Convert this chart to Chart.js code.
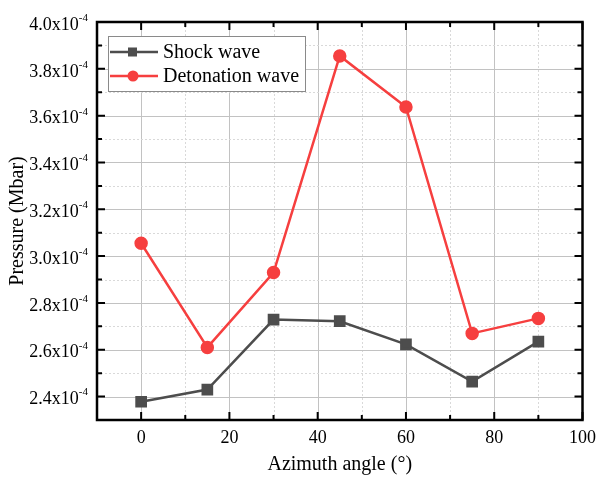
<!DOCTYPE html>
<html>
<head>
<meta charset="utf-8">
<script src="https://cdn.jsdelivr.net/npm/chart.js@4.4.0/dist/chart.umd.min.js"></script>
<style>
  html, body { margin: 0; padding: 0; background: #fff; }
  #wrap { width: 603px; height: 477px; }
</style>
</head>
<body>
<div id="wrap"><canvas id="pressureChart"></canvas></div>
<script>
const angles = [0, 15, 30, 45, 60, 75, 90];
const shockWave = [2.378e-4, 2.430e-4, 2.729e-4, 2.722e-4, 2.623e-4, 2.464e-4, 2.635e-4];
const detonationWave = [3.055e-4, 2.610e-4, 2.930e-4, 3.855e-4, 3.637e-4, 2.670e-4, 2.734e-4];
const seriesNames = ['Shock wave', 'Detonation wave'];
const xTicks = [0, 20, 40, 60, 80, 100];
const yTicks = [2.4e-4, 2.6e-4, 2.8e-4, 3.0e-4, 3.2e-4, 3.4e-4, 3.6e-4, 3.8e-4, 4.0e-4];
const yTickLabels = ['2.4', '2.6', '2.8', '3.0', '3.2', '3.4', '3.6', '3.8', '4.0'];

const FONT = "'Liberation Serif', 'Times New Roman', serif";
const GRAY = '#4d4d4d';
const RED = '#f63f3f';

// minor positions halfway between majors (plus one before the first)
function withMinors(major) {
  const step = major[1] - major[0];
  const out = [];
  major.forEach(v => {
    out.push({ value: v - step / 2, minor: true });
    out.push({ value: v, minor: false });
  });
  return out;
}

const framePlugin = {
  id: 'frame',
  beforeDatasetsDraw(chart) {
    const { ctx, chartArea: a, scales: { x, y } } = chart;
    ctx.save();
    ctx.beginPath();
    ctx.rect(a.left, a.top, a.right - a.left, a.bottom - a.top);
    ctx.clip();
    ctx.lineWidth = 1;
    withMinors(xTicks).forEach(t => {
      const px = Math.round(x.getPixelForValue(t.value)) + 0.5;
      ctx.beginPath();
      ctx.strokeStyle = t.minor ? '#d9d9d9' : '#c2c2c2';
      ctx.setLineDash(t.minor ? [2, 2] : []);
      ctx.moveTo(px, a.top); ctx.lineTo(px, a.bottom);
      ctx.stroke();
    });
    withMinors(yTicks).forEach(t => {
      const py = Math.round(y.getPixelForValue(t.value)) + 0.5;
      ctx.beginPath();
      ctx.strokeStyle = t.minor ? '#d9d9d9' : '#c2c2c2';
      ctx.setLineDash(t.minor ? [2, 2] : []);
      ctx.moveTo(a.left, py); ctx.lineTo(a.right, py);
      ctx.stroke();
    });
    ctx.restore();
  },
  afterDraw(chart) {
    const { ctx, chartArea: a, scales: { x, y } } = chart;
    ctx.save();
    ctx.setLineDash([]);
    ctx.strokeStyle = '#000';
    // tick marks, inward on all four sides
    ctx.lineWidth = 2;
    withMinors(xTicks).forEach(t => {
      const px = x.getPixelForValue(t.value);
      const len = t.minor ? 5 : 8;
      ctx.beginPath();
      ctx.moveTo(px, a.bottom); ctx.lineTo(px, a.bottom - len);
      ctx.moveTo(px, a.top); ctx.lineTo(px, a.top + len);
      ctx.stroke();
    });
    withMinors(yTicks).forEach(t => {
      const py = y.getPixelForValue(t.value);
      const len = t.minor ? 5 : 8;
      ctx.beginPath();
      ctx.moveTo(a.left, py); ctx.lineTo(a.left + len, py);
      ctx.moveTo(a.right, py); ctx.lineTo(a.right - len, py);
      ctx.stroke();
    });
    ctx.lineWidth = 2.5;
    ctx.strokeRect(a.left, a.top, a.right - a.left, a.bottom - a.top);

    // y tick labels with superscript exponent
    ctx.fillStyle = '#000';
    ctx.textBaseline = 'middle';
    const labelRight = a.left - 9;
    yTicks.forEach((v, i) => {
      const py = y.getPixelForValue(v);
      ctx.font = '11px ' + FONT;
      const exp = '-4';
      const ew = ctx.measureText(exp).width;
      ctx.textAlign = 'left';
      ctx.fillText(exp, labelRight - ew, py - 4);
      ctx.font = '18px ' + FONT;
      ctx.textAlign = 'right';
      ctx.fillText(yTickLabels[i] + 'x10', labelRight - ew, py + 3);
    });

    // legend box
    const bx = 108, by = 36, bw = 197, bh = 55;
    ctx.fillStyle = '#fff';
    ctx.fillRect(bx, by, bw, bh);
    ctx.lineWidth = 1;
    ctx.strokeStyle = '#8a8a8a';
    ctx.strokeRect(bx + 0.5, by + 0.5, bw, bh);
    chart.data.datasets.forEach((ds, i) => {
      const ly = by + 16 + i * 24;
      ctx.strokeStyle = ds.borderColor;
      ctx.fillStyle = ds.borderColor;
      ctx.lineWidth = 2.5;
      ctx.beginPath();
      ctx.moveTo(bx + 2, ly); ctx.lineTo(bx + 50, ly);
      ctx.stroke();
      if (ds.pointStyle === 'rect') {
        ctx.fillRect(bx + 20, ly - 4.5, 9, 9);
      } else {
        ctx.beginPath();
        ctx.arc(bx + 25, ly, 5.5, 0, Math.PI * 2);
        ctx.fill();
      }
      ctx.fillStyle = '#000';
      ctx.font = '20px ' + FONT;
      ctx.textAlign = 'left';
      ctx.textBaseline = 'middle';
      ctx.fillText(ds.label, bx + 55, ly + 1);
    });
    ctx.restore();
  }
};

new Chart(document.getElementById('pressureChart'), {
  type: 'line',
  data: {
    datasets: [
      {
        label: seriesNames[0],
        data: angles.map((a, i) => ({ x: a, y: shockWave[i] })),
        borderColor: GRAY,
        backgroundColor: GRAY,
        borderWidth: 2.5,
        pointStyle: 'rect',
        pointRadius: 6.5,
        pointHoverRadius: 6.5
      },
      {
        label: seriesNames[1],
        data: angles.map((a, i) => ({ x: a, y: detonationWave[i] })),
        borderColor: RED,
        backgroundColor: RED,
        borderWidth: 2.5,
        pointStyle: 'circle',
        pointRadius: 5.5,
        pointHoverRadius: 5.5
      }
    ]
  },
  options: {
    responsive: true,
    maintainAspectRatio: false,
    animation: false,
    events: [],
    layout: { padding: { left: 0, right: 13, top: 22, bottom: 0 } },
    plugins: {
      legend: { display: false },
      tooltip: { enabled: false }
    },
    scales: {
      x: {
        type: 'linear',
        min: -10,
        max: 100,
        afterBuildTicks: s => { s.ticks = xTicks.map(v => ({ value: v })); },
        afterFit: s => { s.height = 57; },
        grid: { display: false, drawTicks: false },
        border: { display: false },
        ticks: {
          color: '#000',
          padding: 7,
          maxRotation: 0,
          font: { family: FONT, size: 18 }
        },
        title: {
          display: true,
          text: 'Azimuth angle (°)',
          color: '#000',
          padding: 0,
          font: { family: FONT, size: 20 }
        }
      },
      y: {
        type: 'linear',
        min: 2.3e-4,
        max: 4.0e-4,
        afterBuildTicks: s => { s.ticks = yTicks.map(v => ({ value: v })); },
        afterFit: s => { s.width = 97; },
        grid: { display: false, drawTicks: false },
        border: { display: false },
        ticks: { display: false },
        title: {
          display: true,
          text: 'Pressure (Mbar)',
          color: '#000',
          padding: { top: 6, bottom: 0 },
          font: { family: FONT, size: 20 }
        }
      }
    }
  },
  plugins: [framePlugin]
});
</script>
</body>
</html>
